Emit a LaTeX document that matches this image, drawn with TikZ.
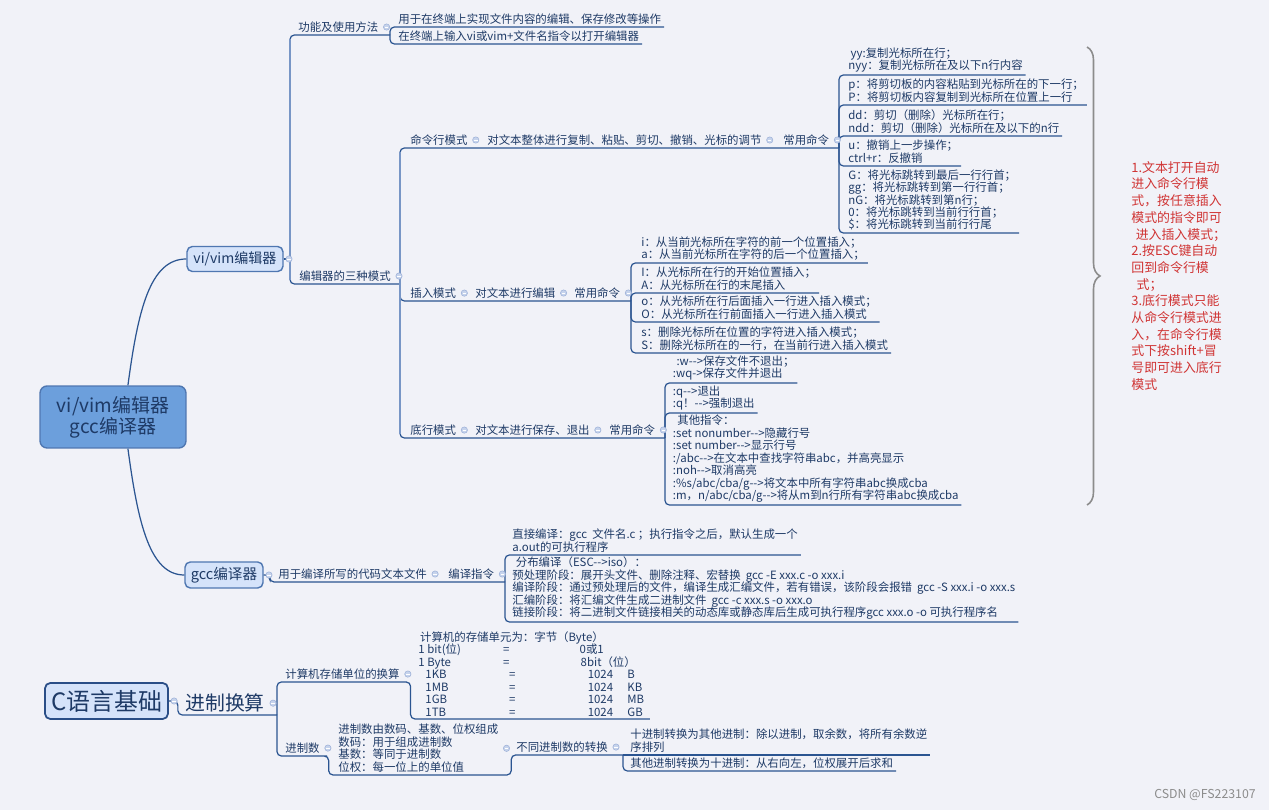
\documentclass[tikz,border=0pt]{standalone}
\usepackage{fontspec}
\usetikzlibrary{decorations.pathreplacing}
\newfontfamily\mapfont{Noto Sans CJK SC}
\definecolor{paper}   {HTML}{F1F2F8}
\definecolor{navy800} {HTML}{1E3A66}
\definecolor{blue800} {HTML}{2A4E87}
\definecolor{blue700} {HTML}{2B5591}
\definecolor{blue500} {HTML}{4F77B1}
\definecolor{blue400} {HTML}{7896C6}
\definecolor{blue300} {HTML}{6C9FDC}
\definecolor{blue100} {HTML}{D5E3FA}
\definecolor{fold200} {HTML}{C6D3EC}
\definecolor{fold400} {HTML}{9DB1D8}
\definecolor{red600}  {HTML}{D03434}
\definecolor{grey500} {HTML}{8C8C8C}
\newcommand{\cellat}[2]{\makebox[0pt][l]{\hspace*{#1}#2}}
\tikzset{
  root/.style  ={draw=blue500, line width=0.8pt, fill=blue300,
                 rounded corners=4pt, align=center, text=navy800,
                 minimum width=2.92cm, minimum height=1.24cm,
                 font={\mapfont\fontsize{10.8}{11.9}\selectfont}},
  box/.style   ={draw=blue500, line width=0.8pt, fill=blue100,
                 rounded corners=3pt, text=navy800, inner sep=0pt},
  ent/.style   ={anchor=south west, align=left, text=navy800,
                 inner xsep=1.5pt, inner ysep=1.3pt,
                 font={\mapfont\fontsize{6.5}{7.1}\selectfont\lineskiplimit=-10pt}},
  ul/.style    ={draw=blue700, line width=0.7pt, rounded corners=2.5pt},
  trunk/.style ={draw=blue400, line width=1.5pt},
  fold/.style  ={circle, draw=fold400, fill=fold200, line width=0.3pt,
                 inner sep=0pt, minimum size=3.6pt,
                 path picture={\draw[white, line width=0.5pt]
                   ([xshift=-1pt]path picture bounding box.center) --
                   ([xshift=1pt]path picture bounding box.center);}},
  note/.style  ={anchor=north west, align=left, text=red600, inner sep=0pt,
                 font={\mapfont\fontsize{7.35}{9.5}\selectfont\lineskiplimit=-10pt}},
  tag/.style   ={text=grey500, inner sep=0pt,
                 font={\mapfont\fontsize{7}{8}\selectfont}}
}

\begin{document}
\begin{tikzpicture}[x=0.02cm, y=-0.02cm]
\fill[paper] (0,0) rectangle (1269,810);
\useasboundingbox (0,0) rectangle (1269,810);

\node[root] (hub) at (113,417) {vi/vim编辑器\\gcc编译器};
\node[box, minimum width=1.92cm, minimum height=0.5cm,
      font={\mapfont\fontsize{8}{9}\selectfont}] (vibox) at (235,259) {vi/vim编辑器};
\node[box, minimum width=1.56cm, minimum height=0.52cm,
      font={\mapfont\fontsize{8.3}{9}\selectfont}] (gccbox) at (224,575) {gcc编译器};
\node[box, draw=blue800, line width=1pt, minimum width=2.46cm, minimum height=0.72cm,
      font={\mapfont\fontsize{13.6}{15}\selectfont}] (cbox) at (106.5,701) {C语言基础};

\coordinate (viJ) at (290,259);
\coordinate (fnJ) at (390,35);
\coordinate (modesJ) at (400,284);
\coordinate (cmdJ) at (839,148);
\coordinate (insJ) at (631,301);
\coordinate (botJ) at (665,438);
\coordinate (gccJ) at (505,582);
\coordinate (jzJ) at (277,715);
\coordinate (cvJ) at (623,755);

\node[ent] (fn) at (295.4,35) {功能及使用方法};
\node[ent] (fn1) at (395.4,27) {用于在终端上实现文件内容的编辑、保存修改等操作};
\node[ent] (fn2) at (395.4,44) {在终端上输入vi或vim+文件名指令以打开编辑器};
\node[ent] (modes) at (296.4,284) {编辑器的三种模式};

\node[ent] (cmd) at (407.4,148) {命令行模式};
\node[ent] (cmdD) at (484.4,148) {对文本整体进行复制、粘贴、剪切、撤销、光标的调节};
\node[ent] (cmdC) at (780.4,148) {常用命令};
\node[ent] (c1) at (845.4,75) {\hspace*{1.3pt}yy:复制光标所在行；\\nyy：复制光标所在及以下n行内容};
\node[ent] (c2) at (845.4,105) {p：将剪切板的内容粘贴到光标所在的下一行；\\P：将剪切板内容复制到光标所在位置上一行};
\node[ent] (c3) at (845.4,136) {dd：剪切（删除）光标所在行；\\ndd：剪切（删除）光标所在及以下的n行};
\node[ent] (c4) at (845.4,166) {u：撤销上一步操作；\\ctrl+r：反撤销};
\node[ent] (c5) at (845.4,233) {G：将光标跳转到最后一行行首；\\gg：将光标跳转到第一行行首；\\nG：将光标跳转到第n行；\\0：将光标跳转到当前行行首；\\\$：将光标跳转到当前行行尾};

\node[ent] (ins) at (407.4,301) {插入模式};
\node[ent] (insD) at (472.4,301) {对文本进行编辑};
\node[ent] (insC) at (571.4,301) {常用命令};
\node[ent] (i1) at (638.4,263) {i：从当前光标所在字符的前一个位置插入；\\a：从当前光标所在字符的后一个位置插入；};
\node[ent] (i2) at (638.4,293) {I：从光标所在行的开始位置插入；\\A：从光标所在行的末尾插入};
\node[ent] (i3) at (638.4,322) {o：从光标所在行后面插入一行进入插入模式；\\O：从光标所在行前面插入一行进入插入模式};
\node[ent] (i4) at (638.4,353) {s：删除光标所在位置的字符进入插入模式；\\S：删除光标所在的一行，在当前行进入插入模式};

\node[ent] (bot) at (407.4,438) {底行模式};
\node[ent] (botD) at (472.4,438) {对文本进行保存、退出};
\node[ent] (botC) at (606.4,438) {常用命令};
\node[ent] (b1) at (670,383) {\hspace*{2pt}:w-->保存文件不退出；\\:wq->保存文件并退出};
\node[ent] (b2) at (670,413) {:q-->退出\\:q！-->强制退出};
\node[ent] (b3) at (670,505) {\hspace*{2.5pt}其他指令：\\:set nonumber-->隐藏行号\\:set number-->显示行号\\:/abc-->在文本中查找字符串abc，并高亮显示\\:noh-->取消高亮\\:\%s/abc/cba/g-->将文本中所有字符串abc换成cba\\:m，n/abc/cba/g-->将从m到n行所有字符串abc换成cba};

\node[ent] (gcc1) at (275.4,582) {用于编译所写的代码文本文件};
\node[ent] (gcc2) at (445.4,582) {编译指令};
\node[ent] (g1) at (509.4,555) {直接编译：gcc\ \ 文件名.c ；执行指令之后，默认生成一个\\a.out的可执行程序};
\node[ent] (g2) at (509.4,622) {\hspace*{2pt}分布编译（ESC-->iso）：\\预处理阶段：展开头文件、删除注释、宏替换\ \ gcc -E xxx.c -o xxx.i\\编译阶段：通过预处理后的文件，编译生成汇编文件，若有错误，该阶段会报错\ \ gcc -S xxx.i -o xxx.s\\汇编阶段：将汇编文件生成二进制文件\ \ gcc -c xxx.s -o xxx.o\\链接阶段：将二进制文件链接相关的动态库或静态库后生成可执行程序gcc xxx.o -o 可执行程序名};

\node[ent, inner xsep=1.5pt, font={\mapfont\fontsize{11.3}{12}\selectfont}] (jz) at (182.4,715) {进制换算};
\node[ent] (st) at (282.4,682) {计算机存储单位的换算};
\node[ent] (stB) at (415.4,719) {\hspace*{1pt}计算机的存储单元为：字节（Byte）\\
  \cellat{0pt}{1 bit(位)}\cellat{48.2pt}{=}\cellat{91.8pt}{0或1}\hspace*{130pt}\\
  \cellat{0pt}{1 Byte}\cellat{48.2pt}{=}\cellat{92.4pt}{8bit（位）}\hspace*{130pt}\\
  \cellat{4pt}{1KB}\cellat{51.6pt}{=}\cellat{96.4pt}{1024}\cellat{119pt}{B}\hspace*{130pt}\\
  \cellat{4pt}{1MB}\cellat{51.6pt}{=}\cellat{96.4pt}{1024}\cellat{119pt}{KB}\hspace*{130pt}\\
  \cellat{4pt}{1GB}\cellat{51.6pt}{=}\cellat{96.4pt}{1024}\cellat{119pt}{MB}\hspace*{130pt}\\
  \cellat{4pt}{1TB}\cellat{51.6pt}{=}\cellat{96.4pt}{1024}\cellat{119pt}{GB}\hspace*{130pt}};
\node[ent] (js) at (282.4,756) {进制数};
\node[ent] (jsB) at (335.4,775) {进制数由数码、基数、位权组成\\数码：用于组成进制数\\基数：等同于进制数\\位权：每一位上的单位值};
\node[ent] (cv) at (513.4,755) {不同进制数的转换};
\node[ent] (cv1) at (627.4,755) {十进制转换为其他进制：除以进制，取余数，将所有余数逆\\序排列};
\node[ent] (cv2) at (627.4,771) {其他进制转换为十进制：从右向左，位权展开后求和};

\draw[ul] ([xshift=8.5pt]hub.north) .. controls (138,310) and (150,259) .. (vibox.west);
\draw[ul] ([xshift=8.5pt]hub.south) .. controls (138,524) and (150,575) .. (gccbox.west);
\draw[ul] (vibox.east) -- (viJ);
\draw[ul] (viJ) |- (fnJ);
\draw[ul] (viJ) |- (modesJ);
\draw[ul] (fnJ) |- (fn1.south east);
\draw[ul] (fnJ) |- (fn2.south east);
\draw[ul] (modesJ) |- (cmdJ);
\draw[ul] (modesJ) |- (insJ);
\draw[ul] (modesJ) |- (botJ);
\foreach \n in {c1,c2,c3,c4,c5} \draw[ul] (cmdJ) |- (\n.south east);
\foreach \n in {i1,i2,i3,i4} \draw[ul] (insJ) |- (\n.south east);
\foreach \n in {b1,b2,b3} \draw[ul] (botJ) |- (\n.south east);
\coordinate (viTop) at (290,39);
\coordinate (viBot) at (290,280);
\coordinate (modesTop) at (400,152);
\coordinate (modesBot) at (400,434);
\draw[trunk] (viTop) -- (viBot);
\draw[trunk] (modesTop) -- (modesBot);

\draw[ul] (gccbox.east) -- ++(6,0) |- (gccJ);
\foreach \n in {g1,g2} \draw[ul] (gccJ) |- (\n.south east);

\draw[ul] (cbox.east) -- ++(9,0) |- (jzJ);
\draw[ul] (jzJ) |- (st.south east) -- ++(8,0) |- (stB.south east);
\draw[ul] (jzJ) |- (js.south east) -- ++(6,0) |- (jsB.south east) -- ++(10,0) |- (cvJ);
\draw[ul] (cvJ) -- (cv1.south east);
\draw[ul] (cvJ) |- (cv2.south east);

\foreach \n in {vibox,gccbox,cbox,fn,modes,cmd,cmdD,cmdC,ins,insD,insC,
                bot,botD,botC,gcc1,gcc2,jz,st,js,jsB,cv}
  \node[fold] (\n-m) at ([xshift=3pt]\n.east) {};

\coordinate (braceT) at (1087,47);
\coordinate (braceB) at (1087,505);
\draw[grey500, line width=0.9pt, decorate, decoration={brace, amplitude=0.26cm}]
  (braceT) -- (braceB);
\node[note] (tip) at (1131,161) {1.文本打开自动\\进入命令行模\\式，按任意插入\\模式的指令即可\\\hspace*{2.5pt}进入插入模式；\\2.按ESC键自动\\回到命令行模\\\hspace*{3pt}式；\\3.底行模式只能\\从命令行模式进\\入，在命令行模\\式下按shift+冒\\号即可进入底行\\模式};

\node[tag, anchor=east] (mark) at (1256,795) {CSDN @FS223107};
\end{tikzpicture}
\end{document}
